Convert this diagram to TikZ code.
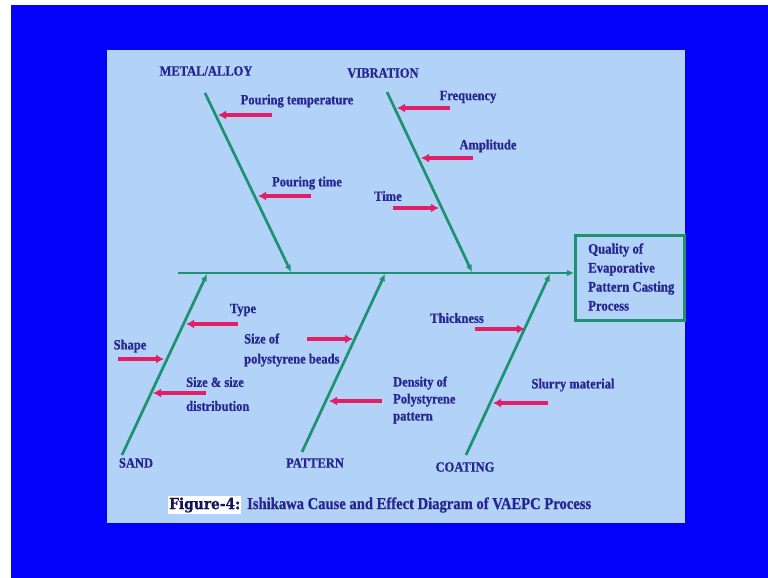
\documentclass[tikz,border=0pt]{standalone}
\usepackage{fontspec}
\setmainfont{Liberation Serif}[FakeStretch=0.88,BoldFeatures={FakeStretch=0.88,FakeBold=0.8}]
\newfontfamily\figfont{DejaVu Serif}[FakeStretch=0.9,BoldFeatures={FakeStretch=0.9,FakeBold=0.8}]
\usetikzlibrary{arrows.meta}
\definecolor{bgblue}{RGB}{2,2,250}
\definecolor{panel}{RGB}{178,210,248}
\definecolor{navy}{RGB}{38,38,145}
\definecolor{capnavy}{RGB}{18,18,95}
\definecolor{bone}{RGB}{28,146,112}
\definecolor{pinkarr}{RGB}{226,30,102}
\begin{document}
\begin{tikzpicture}[x=1pt,y=-1pt,
  lbl/.style={text=navy,font=\bfseries\fontsize{14.2}{16}\selectfont,inner sep=0pt},
  bonel/.style={draw=bone,line width=2.7pt,-{Latex[length=7pt,width=6.5pt]}},
  cause/.style={draw=pinkarr,line width=3.2pt,-{Latex[length=8pt,width=9pt]}}]
\useasboundingbox (0,0) rectangle (768,578);
\fill[white] (0,0) rectangle (768,578);
\fill[bgblue] (11,5) rectangle (768,578);
\fill[panel] (107,50) rectangle (685,523);

% effect box
\node (effect) [draw=bone,line width=2.7pt,minimum width=109pt,minimum height=85pt,anchor=north west,inner sep=0pt] at (574,234) {};
\node (effecttxt) [lbl,anchor=west,align=left,font=\bfseries\fontsize{14.5}{19}\selectfont] at (588,277) {Quality of\\Evaporative\\Pattern Casting\\Process};

% spine
\coordinate (tail) at (178,273);
\draw[bonel] (tail) -- (tail -| effect.west);

% bones
\coordinate (metalS) at (205,93);   \coordinate (metalE) at (291,272);
\coordinate (vibS) at (387,92);     \coordinate (vibE) at (472,272);
\coordinate (sandS) at (122,455);   \coordinate (sandE) at (207,274);
\coordinate (patS) at (302,452);    \coordinate (patE) at (385,274);
\coordinate (coatS) at (466,455);   \coordinate (coatE) at (550,274);
\draw[bonel] (metalS) -- (metalE);
\draw[bonel] (vibS) -- (vibE);
\draw[bonel] (sandS) -- (sandE);
\draw[bonel] (patS) -- (patE);
\draw[bonel] (coatS) -- (coatE);

% category labels
\node (metal) [lbl] at (206,71) {METAL/ALLOY};
\node (vib) [lbl] at (383,73) {VIBRATION};
\node (sand) [lbl] at (136,463) {SAND};
\node (pattern) [lbl] at (315,463) {PATTERN};
\node (coating) [lbl] at (465,467) {COATING};

% cause arrows
\coordinate (a1s) at (272,115); \coordinate (a1e) at (218,115);
\coordinate (a2s) at (311,196); \coordinate (a2e) at (258,196);
\coordinate (a3s) at (450,108); \coordinate (a3e) at (397,108);
\coordinate (a4s) at (473,158); \coordinate (a4e) at (421,158);
\coordinate (a5s) at (393,208); \coordinate (a5e) at (439,208);
\coordinate (a6s) at (238,324); \coordinate (a6e) at (186,324);
\coordinate (a7s) at (118,359); \coordinate (a7e) at (164,359);
\coordinate (a8s) at (206,393); \coordinate (a8e) at (153,393);
\coordinate (a9s) at (307,339); \coordinate (a9e) at (353,339);
\coordinate (a10s) at (382,401); \coordinate (a10e) at (329,401);
\coordinate (a11s) at (475,329); \coordinate (a11e) at (525,329);
\coordinate (a12s) at (548,403); \coordinate (a12e) at (493,403);
\foreach \i in {1,...,12} {\draw[cause] (a\i s) -- (a\i e);}

% cause labels
\node (t1) [lbl] at (297,101) {Pouring temperature};
\node (t2) [lbl] at (307,183) {Pouring time};
\node (t3) [lbl] at (468,97) {Frequency};
\node (t4) [lbl] at (488,146) {Amplitude};
\node (t5) [lbl] at (388,196) {Time};
\node (t6) [lbl] at (243,310) {Type};
\node (t7) [lbl] at (130,346) {Shape};
\node (t8a) [lbl,anchor=west] at (186,382) {Size \& size};
\node (t8b) [lbl,anchor=west] at (186,406) {distribution};
\node (t9) [lbl,anchor=west,align=left,font=\bfseries\fontsize{14.2}{20}\selectfont] at (244,350) {Size of\\polystyrene beads};
\node (t10) [lbl,anchor=west,align=left,font=\bfseries\fontsize{14.2}{17}\selectfont] at (393,400) {Density of\\Polystyrene\\pattern};
\node (t11) [lbl] at (457,318) {Thickness};
\node (t12) [lbl] at (573,385) {Slurry material};

% caption
\node (figlbl) [fill=white,text=capnavy,font=\figfont\bfseries\fontsize{15.3}{18}\selectfont,inner xsep=1pt,inner ysep=1.5pt,anchor=west] at (168,505) {Figure-4:};
\node (caption) [text=navy,font=\bfseries\fontsize{16.6}{19}\selectfont,inner sep=0pt,anchor=west] at (247,505) {Ishikawa Cause and Effect Diagram of VAEPC Process};
\end{tikzpicture}
\end{document}
